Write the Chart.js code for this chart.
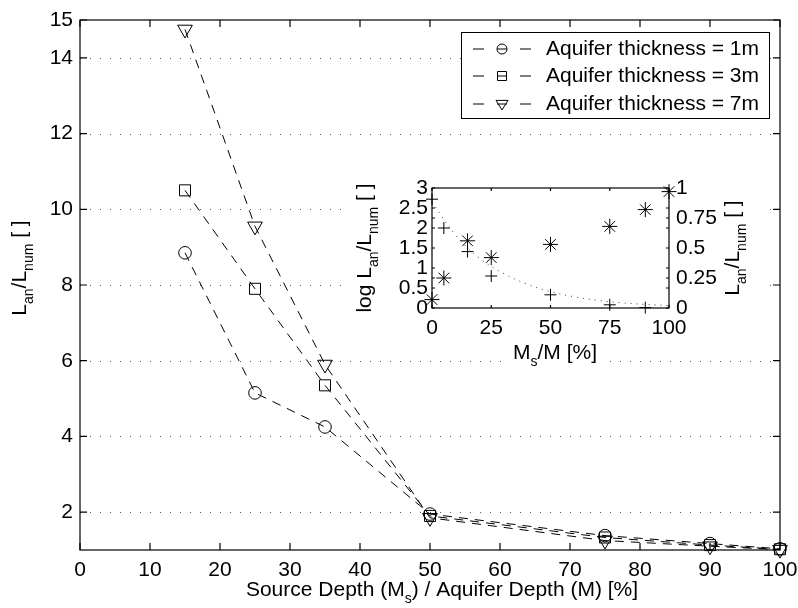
<!DOCTYPE html>
<html>
<head>
<meta charset="utf-8">
<script src="https://cdn.jsdelivr.net/npm/chart.js@4/dist/chart.umd.min.js"></script>
<style>
  body { margin: 0; background: #fff; }
  #wrap { position: relative; width: 798px; height: 608px; }
  #wrap canvas { position: absolute; left: 0; top: 0; }
</style>
</head>
<body>
<div id="wrap">
  <canvas id="mainChart" width="798" height="608"></canvas>
  <canvas id="insetChart" width="798" height="608"></canvas>
</div>
<script>
// main plot: source depth as % of aquifer depth
const depthPct = [15, 25, 35, 50, 75, 90, 100];
const ratio1m = [8.85, 5.15, 4.25, 1.95, 1.38, 1.17, 1.03];
const ratio3m = [10.5, 7.9, 5.35, 1.9, 1.33, 1.13, 1.02];
const ratio7m = [14.75, 9.55, 5.9, 1.85, 1.25, 1.1, 1.01];
const mainYTicks = [2, 4, 6, 8, 10, 12, 14, 15];
const legendLabels = ['Aquifer thickness = 1m', 'Aquifer thickness = 3m', 'Aquifer thickness = 7m'];

// inset: Ms/M in %
const starX = [0, 5, 15, 25, 50, 75, 90, 100];
const starRatio = [0.07, 0.25, 0.56, 0.42, 0.53, 0.68, 0.82, 0.97];
const plusX = [0, 5, 15, 25, 50, 75, 90];
const plusLog = [2.72, 2.0, 1.41, 0.8, 0.33, 0.08, 0.01];
const fitX = [0, 10, 20, 30, 40, 50, 60, 70, 80, 90, 100];
const fitLog = [2.65, 1.82, 1.25, 0.87, 0.6, 0.41, 0.28, 0.19, 0.13, 0.09, 0.06];

const FONT = '"Liberation Sans", Arial, Helvetica, sans-serif';
Chart.defaults.font.family = FONT;
Chart.defaults.font.size = 21;
Chart.defaults.color = '#000';

const pts = (xs, ys) => xs.map((x, i) => ({ x: x, y: ys[i] }));
const plain = v => String(v);

// text with subscripts, centred on (x, y), optionally rotated
function drawRich(ctx, parts, x, y, rot) {
  const big = '21px ' + FONT, small = '14px ' + FONT;
  let w = 0;
  parts.forEach(p => { ctx.font = p.sub ? small : big; p.w = ctx.measureText(p.t).width; w += p.w; });
  ctx.save();
  ctx.translate(x, y);
  if (rot) ctx.rotate(-Math.PI / 2);
  ctx.fillStyle = '#000';
  ctx.textBaseline = 'middle';
  ctx.textAlign = 'left';
  let cx = -w / 2;
  parts.forEach(p => { ctx.font = p.sub ? small : big; ctx.fillText(p.t, cx, p.sub ? 9 : 0); cx += p.w; });
  ctx.restore();
}

function marker(ctx, style, x, y, r) {
  ctx.beginPath();
  if (style === 'circle') ctx.arc(x, y, r, 0, Math.PI * 2);
  else if (style === 'rect') ctx.rect(x - r, y - r, 2 * r, 2 * r);
  else { ctx.moveTo(x - r, y - r * 0.6); ctx.lineTo(x + r, y - r * 0.6); ctx.lineTo(x, y + r); ctx.closePath(); }
  ctx.stroke();
}

function frameAndTicks(ctx, area, xScale, xTicks, yTicksL, yTicksR, len) {
  const a = area;
  ctx.save();
  ctx.strokeStyle = '#000';
  ctx.lineWidth = 1.2;
  ctx.setLineDash([]);
  ctx.strokeRect(a.left, a.top, a.right - a.left, a.bottom - a.top);
  ctx.beginPath();
  xTicks.forEach(v => {
    const px = xScale.getPixelForValue(v);
    ctx.moveTo(px, a.bottom); ctx.lineTo(px, a.bottom - len);
    ctx.moveTo(px, a.top); ctx.lineTo(px, a.top + len);
  });
  yTicksL.concat(yTicksR).forEach(py => {
    ctx.moveTo(a.left, py); ctx.lineTo(a.left + len, py);
    ctx.moveTo(a.right, py); ctx.lineTo(a.right - len, py);
  });
  ctx.stroke();
  ctx.restore();
}

const mainDecor = {
  id: 'mainDecor',
  beforeDatasetsDraw(chart) {
    const { ctx, chartArea: a, scales } = chart;
    ctx.save();
    ctx.strokeStyle = 'rgba(0,0,0,0.65)';
    ctx.lineWidth = 1;
    ctx.setLineDash([1, 9]);
    mainYTicks.filter(v => v < 15).forEach(v => {
      const py = Math.round(scales.y.getPixelForValue(v)) + 0.5;
      ctx.beginPath();
      ctx.moveTo(a.left, py);
      ctx.lineTo(a.right, py);
      ctx.stroke();
    });
    ctx.restore();
  },
  afterDraw(chart) {
    const { ctx, chartArea: a, scales } = chart;
    const xt = scales.x.ticks.map(t => t.value);
    const yt = mainYTicks.map(v => scales.y.getPixelForValue(v));
    frameAndTicks(ctx, a, scales.x, xt, yt, [], 7);

    drawRich(ctx, [{ t: 'L' }, { t: 'an', sub: true }, { t: '/L' }, { t: 'num', sub: true }, { t: ' [ ]' }], 20, 268, true);
    drawRich(ctx, [{ t: 'Source Depth (M' }, { t: 's', sub: true }, { t: ') / Aquifer Depth (M) [%]' }], 442, 590, false);

    // legend
    ctx.save();
    ctx.fillStyle = '#fff';
    ctx.fillRect(461, 32, 308, 86);
    ctx.strokeStyle = '#000';
    ctx.lineWidth = 1;
    ctx.strokeRect(461.5, 32.5, 308, 86);
    const rows = [49, 76, 104];
    const styles = ['circle', 'rect', 'tri'];
    const sizes = [5, 4.5, 6];
    rows.forEach((ry, i) => {
      ctx.beginPath();
      ctx.moveTo(473, ry); ctx.lineTo(484, ry);
      ctx.moveTo(520, ry); ctx.lineTo(531, ry);
      ctx.moveTo(497, ry); ctx.lineTo(507, ry);
      ctx.stroke();
      marker(ctx, styles[i], 502, ry, sizes[i]);
      ctx.fillStyle = '#000';
      ctx.font = '21px ' + FONT;
      ctx.textBaseline = 'middle';
      ctx.textAlign = 'left';
      ctx.fillText(legendLabels[i], 546, ry);
    });
    ctx.restore();
  }
};

const dashed = {
  showLine: true, borderColor: '#000', borderWidth: 1, borderDash: [9, 7],
  backgroundColor: 'rgba(0,0,0,0)', pointBorderColor: '#000', pointBorderWidth: 1,
  pointBackgroundColor: 'rgba(0,0,0,0)', tension: 0, clip: false
};

new Chart(document.getElementById('mainChart'), {
  type: 'scatter',
  data: {
    datasets: [
      Object.assign({ label: legendLabels[0], data: pts(depthPct, ratio1m), pointStyle: 'circle', pointRadius: 6.3 }, dashed),
      Object.assign({ label: legendLabels[1], data: pts(depthPct, ratio3m), pointStyle: 'rect', pointRadius: 7.8 }, dashed),
      Object.assign({ label: legendLabels[2], data: pts(depthPct, ratio7m), pointStyle: 'triangle', pointRotation: 180, pointRadius: 8.5 }, dashed)
    ]
  },
  options: {
    responsive: false,
    animation: false,
    events: [],
    layout: { padding: { top: 20, right: 18, left: 0, bottom: 0 } },
    plugins: { legend: { display: false }, tooltip: { enabled: false } },
    scales: {
      x: {
        type: 'linear', min: 0, max: 100,
        ticks: { stepSize: 10, padding: 8, autoSkip: false, maxRotation: 0 },
        grid: { display: false, drawTicks: false }, border: { display: false },
        afterFit: s => { s.height = 58; s.paddingLeft = 0; s.paddingRight = 0; }
      },
      y: {
        type: 'linear', min: 1, max: 15,
        afterBuildTicks: s => { s.ticks = mainYTicks.map(v => ({ value: v })); },
        ticks: { padding: 7, autoSkip: false },
        grid: { display: false, drawTicks: false }, border: { display: false },
        afterFit: s => { s.width = 80; s.paddingTop = 0; s.paddingBottom = 0; }
      }
    }
  },
  plugins: [mainDecor]
});

const insetDecor = {
  id: 'insetDecor',
  beforeDraw(chart) {
    const ctx = chart.ctx;
    ctx.save();
    ctx.fillStyle = '#fff';
    ctx.fillRect(345, 178, 420, 160);
    ctx.fillRect(505, 338, 100, 30);
    ctx.restore();
  },
  afterDraw(chart) {
    const { ctx, chartArea: a, scales } = chart;
    const xt = scales.x.ticks.map(t => t.value);
    const yl = scales.y.ticks.map(t => scales.y.getPixelForValue(t.value));
    const yr = scales.y2.ticks.map(t => scales.y2.getPixelForValue(t.value));
    frameAndTicks(ctx, a, scales.x, xt, yl, yr, 3);
    drawRich(ctx, [{ t: 'log L' }, { t: 'an', sub: true }, { t: '/L' }, { t: 'num', sub: true }, { t: ' [ ]' }], 365, 248, true);
    drawRich(ctx, [{ t: 'L' }, { t: 'an', sub: true }, { t: '/L' }, { t: 'num', sub: true }, { t: ' [ ]' }], 733, 248, true);
    drawRich(ctx, [{ t: 'M' }, { t: 's', sub: true }, { t: '/M [%]' }], 555, 353, false);
  }
};

new Chart(document.getElementById('insetChart'), {
  type: 'scatter',
  data: {
    datasets: [
      { data: pts(fitX, fitLog), yAxisID: 'y', showLine: true, pointRadius: 0, borderColor: 'rgba(0,0,0,0.75)', borderWidth: 1, borderDash: [1, 5], tension: 0.4, clip: false },
      { data: pts(plusX, plusLog), yAxisID: 'y', pointStyle: 'cross', pointRadius: 6, pointBorderColor: '#000', pointBorderWidth: 1, clip: false },
      { data: pts(starX, starRatio), yAxisID: 'y2', pointStyle: 'star', pointRadius: 7.5, pointBorderColor: '#000', pointBorderWidth: 1, clip: false }
    ]
  },
  options: {
    responsive: false,
    animation: false,
    events: [],
    layout: { padding: { top: 188, left: 0, right: 0, bottom: 0 } },
    plugins: { legend: { display: false }, tooltip: { enabled: false } },
    scales: {
      x: {
        type: 'linear', min: 0, max: 100,
        ticks: { stepSize: 25, padding: 8, autoSkip: false, maxRotation: 0, callback: plain },
        grid: { display: false, drawTicks: false }, border: { display: false },
        afterFit: s => { s.height = 300; s.paddingLeft = 0; s.paddingRight = 0; }
      },
      y: {
        type: 'linear', position: 'left', min: 0, max: 3,
        ticks: { stepSize: 0.5, padding: 4, autoSkip: false, callback: plain },
        grid: { display: false, drawTicks: false }, border: { display: false },
        afterFit: s => { s.width = 432; s.paddingTop = 0; s.paddingBottom = 0; }
      },
      y2: {
        type: 'linear', position: 'right', min: 0, max: 1,
        ticks: { stepSize: 0.25, padding: 7, autoSkip: false, callback: plain },
        grid: { display: false, drawTicks: false }, border: { display: false },
        afterFit: s => { s.width = 129; s.paddingTop = 0; s.paddingBottom = 0; }
      }
    }
  },
  plugins: [insetDecor]
});
</script>
</body>
</html>
